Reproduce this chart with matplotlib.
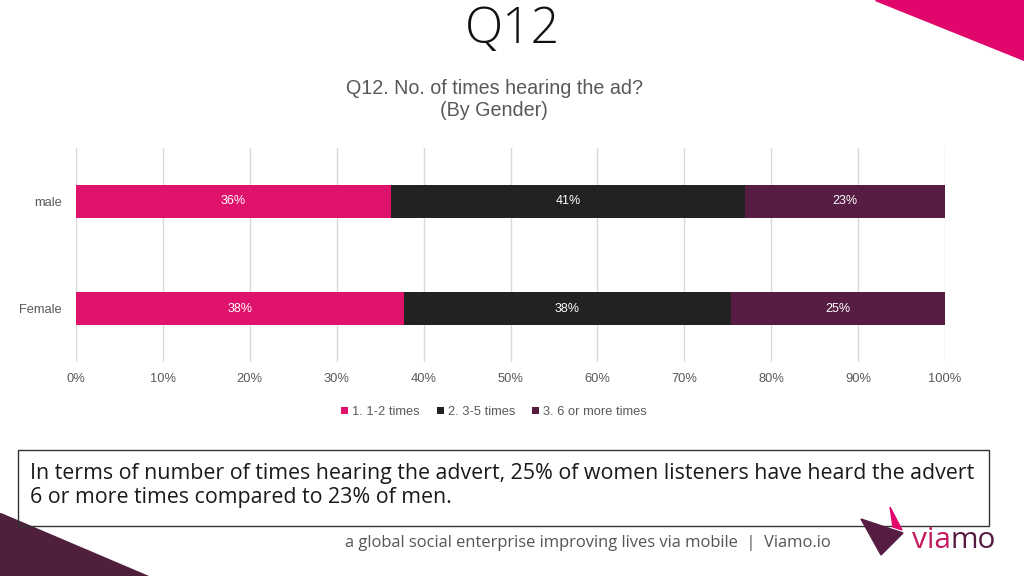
import matplotlib.pyplot as plt
from matplotlib.patches import Polygon, Rectangle
from matplotlib.ticker import PercentFormatter

# === Data ===
groups = ["Female", "male"]
series_names = ["1. 1-2 times", "2. 3-5 times", "3. 6 or more times"]
series_values = [
    [37.7, 36.2],   # 1-2 times
    [37.7, 40.8],   # 3-5 times
    [24.6, 23.0],   # 6 or more
]
value_labels = [
    ["38%", "36%"],
    ["38%", "41%"],
    ["25%", "23%"],
]
colors = ["#E0136C", "#222222", "#561C42"]

W, H = 1024, 576
fig = plt.figure(figsize=(W / 100, H / 100), dpi=100)
fig.patch.set_facecolor("white")


def fx(px):
    return px / W


def fy(py):
    return 1 - py / H


# === decorative shapes ===
fig.patches.append(Polygon([(fx(875), fy(0)), (fx(1024), fy(0)), (fx(1024), fy(60))],
                           closed=True, transform=fig.transFigure, color="#E1066B", zorder=0))
fig.patches.append(Polygon([(fx(0), fy(513)), (fx(0), fy(576)), (fx(148), fy(576))],
                           closed=True, transform=fig.transFigure, color="#4F1F3C", zorder=0))

# page title
fig.text(0.5, fy(43), "Q12", ha="center", va="baseline", fontsize=36,
         family="Open Sans", color="#111111", fontweight="light")

# chart title
fig.text(fx(494), fy(88), "Q12. No. of times hearing the ad?", ha="center", va="center",
         fontsize=14.2, family="Liberation Sans", color="#595959")
fig.text(fx(494), fy(111), "(By Gender)", ha="center", va="center",
         fontsize=14.2, family="Liberation Sans", color="#595959")

# === chart ===
ax = fig.add_axes([fx(76), fy(362), fx(945) - fx(76), (362 - 148) / H])
left = [0, 0]
for vals, labs, name, c in zip(series_values, value_labels, series_names, colors):
    bars = ax.barh(range(len(groups)), vals, left=left, height=0.305, color=c,
                   label=name, zorder=3)
    for b, lab in zip(bars, labs):
        ax.text(b.get_x() + b.get_width() / 2, b.get_y() + b.get_height() / 2, lab,
                ha="center", va="center", color="white", fontsize=9,
                family="Liberation Sans", zorder=4)
    left = [l + v for l, v in zip(left, vals)]

ax.set_xlim(0, 100)
ax.set_ylim(-0.5, 1.5)
ax.set_xticks(range(0, 101, 10))
ax.xaxis.set_major_formatter(PercentFormatter(decimals=0))
ax.set_yticks(range(len(groups)))
ax.set_yticklabels(groups)
ax.grid(axis="x", color="#D9D9D9", linewidth=1, zorder=0)
for s in ax.spines.values():
    s.set_visible(False)
ax.tick_params(length=0, labelsize=9.3, labelcolor="#595959", pad=8)
ax.tick_params(axis="y", pad=10)
for t in ax.get_xticklabels() + ax.get_yticklabels():
    t.set_family("Liberation Sans")

leg = fig.legend(loc="center", bbox_to_anchor=(fx(494), fy(412)), ncol=3, frameon=False,
                 handlelength=0.55, handleheight=0.55, handletextpad=0.3,
                 columnspacing=1.3, prop={"family": "Liberation Sans", "size": 9.3})
for t in leg.get_texts():
    t.set_color("#595959")

# === text box ===
fig.patches.append(Rectangle((fx(18), fy(526)), fx(989) - fx(18), (526 - 450) / H,
                             transform=fig.transFigure, fill=False, edgecolor="#333333",
                             linewidth=1, zorder=2))
fig.text(fx(30), fy(474), "In terms of number of times hearing the advert, 25% of women listeners have heard the advert",
         ha="left", va="center", fontsize=15.4, family="Open Sans", color="#1a1a1a")
fig.text(fx(30), fy(497), "6 or more times compared to 23% of men.",
         ha="left", va="center", fontsize=15.4, family="Open Sans", color="#1a1a1a")

# footer
fig.text(fx(588), fy(543), "a global social enterprise improving lives via mobile  |  Viamo.io",
         ha="center", va="center", fontsize=11.9, family="Open Sans", color="#555555")

# === logo ===
fig.patches.append(Polygon([(fx(890), fy(507)), (fx(902), fy(530)), (fx(893), fy(527))],
                           closed=True, transform=fig.transFigure, color="#E1066B", zorder=3))
fig.patches.append(Polygon([(fx(861), fy(519)), (fx(903), fy(533)), (fx(881), fy(555))],
                           closed=True, transform=fig.transFigure, color="#561C42", zorder=3))
t_via = fig.text(fx(912), fy(548), "via", ha="left", va="baseline", fontsize=21.5,
                 family="Open Sans", color="#C4185F")
renderer = fig.canvas.get_renderer()
bb = t_via.get_window_extent(renderer)
fig.text(bb.x1 / W, fy(548), "mo", ha="left", va="baseline", fontsize=21.5,
         family="Open Sans", color="#561C42")

fig.savefig("out.png", dpi=100, facecolor="white")
